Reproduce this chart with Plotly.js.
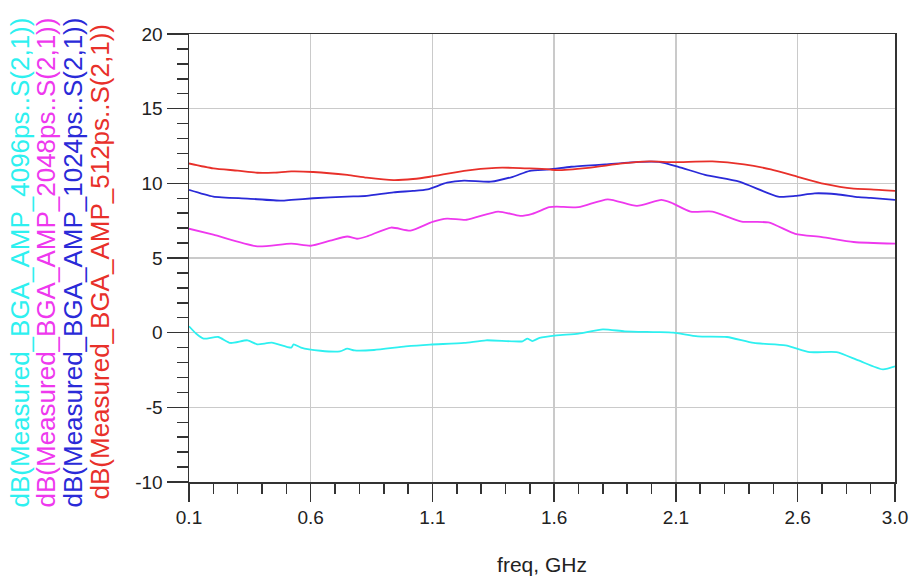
<!DOCTYPE html>
<html>
<head>
<meta charset="utf-8">
<script src="https://cdn.plot.ly/plotly-3.0.1.min.js"></script>
<style>
  html, body { margin: 0; padding: 0; background: #fff; }
  #chart { width: 915px; height: 582px; }
</style>
</head>
<body>
<div id="chart"></div>
<script>
// ---- Data ----
const freqRed = [0.10,0.20,0.30,0.38,0.45,0.52,0.61,0.75,0.83,0.94,1.02,1.09,1.23,1.36,1.43,1.50,1.58,1.61,1.74,1.88,1.99,2.09,2.25,2.38,2.49,2.60,2.71,2.83,2.90,3.00];
const s21_512ps = [11.33,11.00,10.85,10.71,10.72,10.80,10.76,10.56,10.38,10.22,10.29,10.44,10.84,11.04,11.04,11.00,10.93,10.88,11.04,11.33,11.47,11.42,11.47,11.27,10.93,10.44,9.96,9.64,9.60,9.49];

const freqBlue = [0.10,0.20,0.34,0.48,0.52,0.61,0.75,0.83,0.94,1.02,1.08,1.16,1.23,1.34,1.43,1.50,1.58,1.67,1.81,1.95,2.03,2.11,2.22,2.36,2.52,2.59,2.67,2.76,2.85,2.90,3.00];
const s21_1024ps = [9.56,9.11,8.98,8.84,8.89,9.00,9.11,9.16,9.40,9.49,9.60,10.04,10.18,10.11,10.44,10.84,10.93,11.11,11.27,11.44,11.44,11.11,10.56,10.11,9.11,9.16,9.33,9.27,9.07,9.02,8.89];

const freqMagenta = [0.10,0.20,0.38,0.52,0.60,0.68,0.75,0.79,0.83,0.93,1.01,1.10,1.16,1.24,1.37,1.46,1.51,1.58,1.61,1.70,1.82,1.94,2.04,2.08,2.16,2.25,2.37,2.48,2.59,2.70,2.83,3.00];
const s21_2048ps = [6.96,6.56,5.78,5.96,5.82,6.16,6.44,6.29,6.44,7.04,6.84,7.42,7.64,7.56,8.11,7.82,7.96,8.40,8.44,8.40,8.93,8.49,8.89,8.71,8.11,8.11,7.44,7.38,6.62,6.40,6.07,5.96];

const freqCyan = [0.10,0.13,0.16,0.22,0.27,0.34,0.38,0.44,0.52,0.53,0.56,0.64,0.72,0.75,0.78,0.86,0.99,1.09,1.23,1.32,1.47,1.49,1.51,1.54,1.61,1.70,1.80,1.89,2.02,2.09,2.19,2.31,2.42,2.55,2.65,2.76,2.85,2.95,3.00];
const s21_4096ps = [0.43,-0.07,-0.40,-0.29,-0.69,-0.51,-0.78,-0.67,-1.00,-0.78,-1.00,-1.21,-1.25,-1.07,-1.19,-1.16,-0.92,-0.80,-0.69,-0.51,-0.58,-0.40,-0.56,-0.35,-0.18,-0.07,0.22,0.09,0.04,0.00,-0.25,-0.29,-0.69,-0.85,-1.30,-1.30,-1.86,-2.46,-2.26];

const xTickVals = [0.1,0.6,1.1,1.6,2.1,2.6,3.0];
const xTickText = ["0.1","0.6","1.1","1.6","2.1","2.6","3.0"];
const yTickVals = [-10,-5,0,5,10,15,20];
const yTickText = ["-10","-5","0","5","10","15","20"];

const seriesLabels = [
  "dB(Measured_BGA_AMP_4096ps..S(2,1))",
  "dB(Measured_BGA_AMP_2048ps..S(2,1))",
  "dB(Measured_BGA_AMP_1024ps..S(2,1))",
  "dB(Measured_BGA_AMP_512ps..S(2,1))"
];
const seriesColors = ["#2ef0f0", "#ee38ee", "#2a2ad8", "#e8302a"];

// ---- Traces ----
function tr(x, y, color) {
  return { x: x, y: y, type: "scatter", mode: "lines",
           line: { color: color, width: 1.8, shape: "spline", smoothing: 0.6 },
           hoverinfo: "skip", showlegend: false };
}
const data = [
  tr(freqCyan, s21_4096ps, seriesColors[0]),
  tr(freqMagenta, s21_2048ps, seriesColors[1]),
  tr(freqBlue, s21_1024ps, seriesColors[2]),
  tr(freqRed, s21_512ps, seriesColors[3])
];

// ---- Rotated y-axis labels (one per series) ----
const labelX = [20, 46, 73, 100];
const annotations = seriesLabels.map((t, i) => ({
  text: t, xref: "paper", yref: "paper", x: 0, y: 0.49,
  xshift: labelX[i] - 189, xanchor: "center", yanchor: "middle",
  textangle: -90, showarrow: false,
  font: { family: "Liberation Sans, Arial, sans-serif", size: 26, color: seriesColors[i] }
}));

const tickFont = { family: "Liberation Sans, Arial, sans-serif", size: 19, color: "#222" };

const layout = {
  width: 915, height: 582,
  margin: { l: 189, r: 20, t: 34, b: 100, pad: 0 },
  paper_bgcolor: "#fff", plot_bgcolor: "#fff",
  showlegend: false,
  xaxis: {
    range: [0.1, 3.0], tickmode: "array", tickvals: xTickVals, ticktext: xTickText,
    ticks: "outside", ticklen: 18, tickwidth: 1.5, tickcolor: "#333",
    minor: { tickmode: "linear", tick0: 0.1, dtick: 0.1, ticks: "outside", ticklen: 10, tickwidth: 1.5, tickcolor: "#333", showgrid: false },
    showgrid: true, gridcolor: "#cacaca", gridwidth: 1.5,
    showline: true, linecolor: "#333", linewidth: 1.5, mirror: true,
    zeroline: false, tickfont: tickFont,
    title: { text: "freq, GHz", font: { family: "Liberation Sans, Arial, sans-serif", size: 21, color: "#222" }, standoff: 30 },
    automargin: false, fixedrange: true
  },
  yaxis: {
    range: [-10, 20], tickmode: "array", tickvals: yTickVals, ticktext: yTickText,
    ticks: "outside", ticklen: 21, tickwidth: 1.5, tickcolor: "#333",
    minor: { tickmode: "linear", tick0: -10, dtick: 1, ticks: "outside", ticklen: 11, tickwidth: 1.5, tickcolor: "#333", showgrid: false },
    showgrid: true, gridcolor: "#cacaca", gridwidth: 1.5,
    showline: true, linecolor: "#333", linewidth: 1.5, mirror: true,
    zeroline: false, tickfont: tickFont,
    automargin: false, fixedrange: true
  },
  annotations: annotations
};

Plotly.newPlot("chart", data, layout, { staticPlot: true, displayModeBar: false });
</script>
</body>
</html>
